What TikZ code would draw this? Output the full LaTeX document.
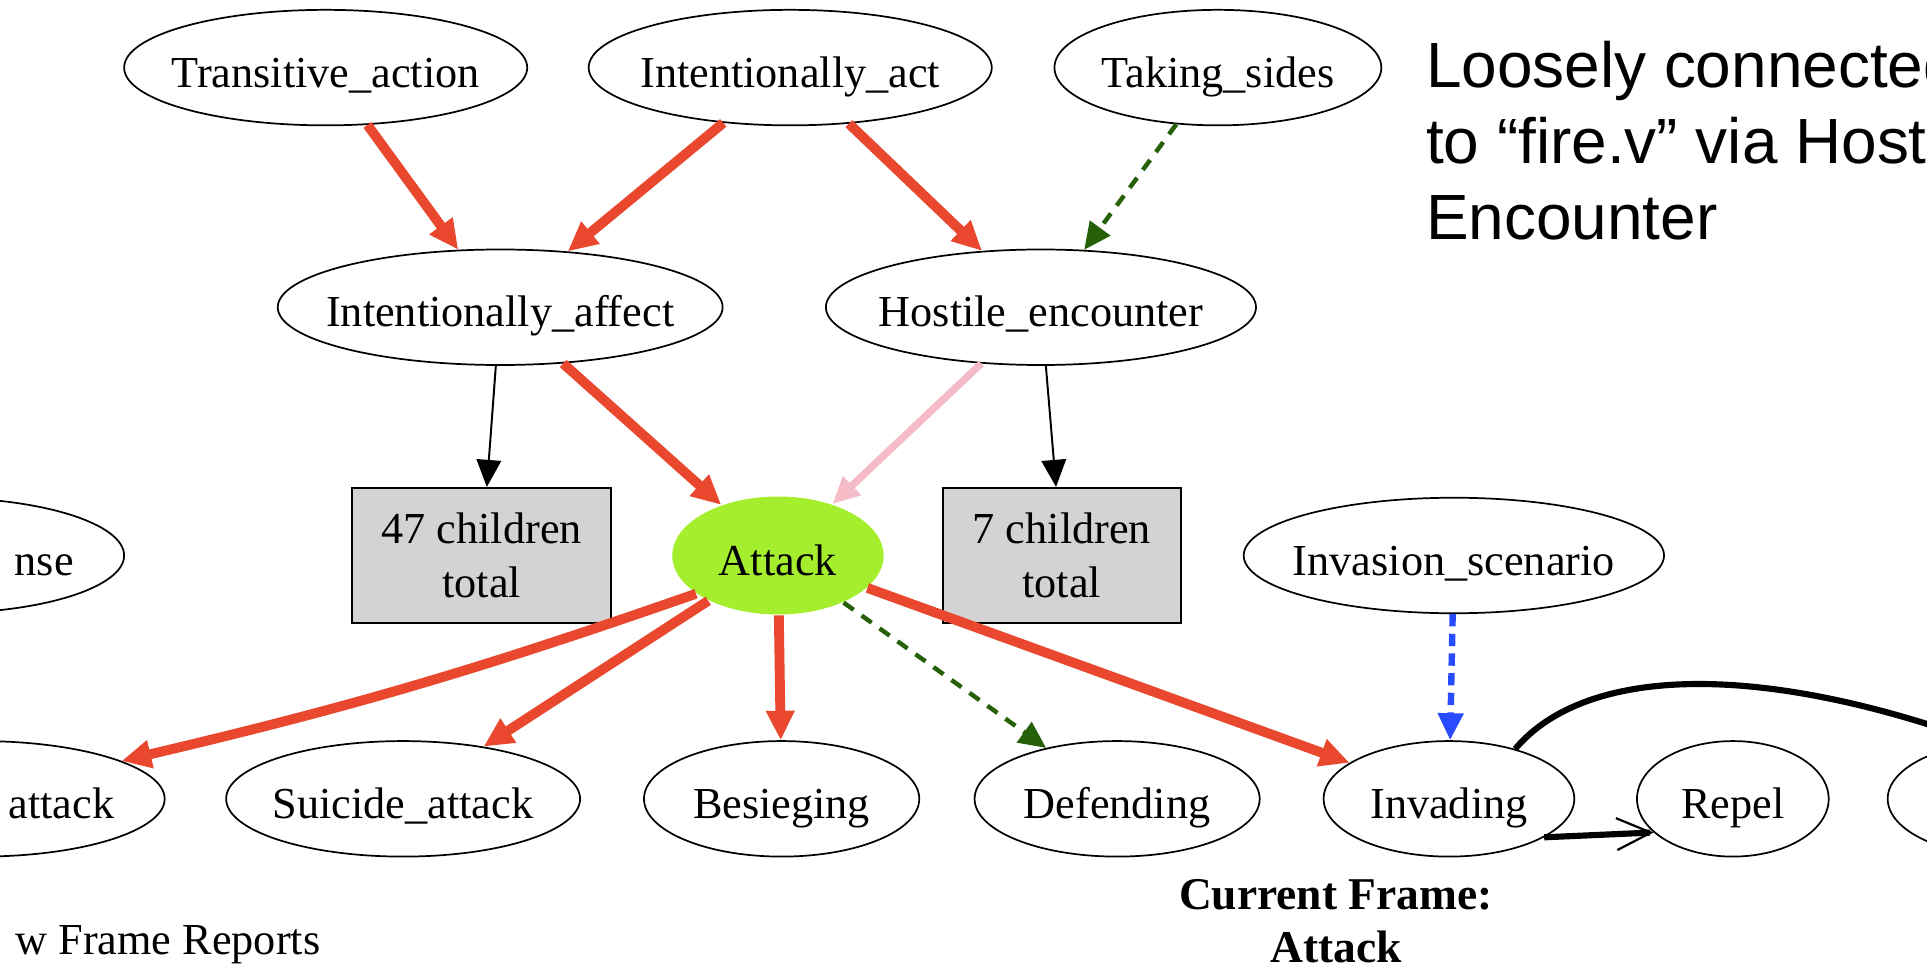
\documentclass[tikz,border=0pt]{standalone}
\usepackage{fontspec}
\setmainfont{Liberation Serif}
\newfontfamily\headfont{Liberation Sans}
\usetikzlibrary{shapes.geometric,arrows.meta,positioning}

\definecolor{hotred}{RGB}{233,71,46}
\definecolor{palepink}{RGB}{245,188,200}
\definecolor{darkgreen}{RGB}{38,96,8}
\definecolor{dashblue}{RGB}{40,75,255}
\definecolor{attackgreen}{RGB}{165,238,45}
\definecolor{boxgray}{RGB}{211,211,211}

\begin{document}
\begin{tikzpicture}[x=0.5pt, y=-0.5pt, on grid,
	every node/.style={font=\fontsize{18}{22}\selectfont},
	fnode/.style={ellipse, draw, line width=0.7pt, inner xsep=-20pt, inner ysep=0pt, minimum height=47pt, text height=16pt, text depth=0pt},
	curframe/.style={fnode, draw=none, fill=attackgreen, minimum width=86pt, minimum height=48pt},
	partial/.style={fnode, minimum width=150pt, text width=109pt, align=right},
	childbox/.style={rectangle, draw, line width=0.8pt, fill=boxgray, minimum width=#1, minimum height=55pt, align=center},
	edgehead/.style={-{Triangle[length=11pt,width=10pt]}},
	inherits/.style={-{Triangle[length=12pt,width=11pt]}, line width=4pt, hotred},
	uses/.style={edgehead, line width=1.8pt, darkgreen, dash pattern=on 5pt off 4pt},
	persp/.style={edgehead, line width=3pt, palepink},
	subframe/.style={edgehead, line width=2.6pt, dashblue, dash pattern=on 5pt off 3pt},
	haschild/.style={edgehead, line width=0.8pt},
	precedes/.style={line width=2.5pt},
	barbhead/.style={-{Straight Barb[length=14pt, width=13pt, line width=0.9pt]}}]
	
	\useasboundingbox (0,0) rectangle (1568,788);
	\clip (0,0) rectangle (1568,788);
	
	% frames
	\node[fnode, minimum width=164pt] (ta) at (265,55) {Transitive\_action};
	\node[fnode, minimum width=164pt] (iact) [right=189pt of ta] {Intentionally\_act};
	\node[fnode, minimum width=133pt] (ts) [right=174pt of iact] {Taking\_sides};
	
	\node[fnode, minimum width=181pt] (iaff) at (407,250) {Intentionally\_affect};
	\node[fnode, minimum width=175pt] (he) [right=220pt of iaff] {Hostile\_encounter};
	
	\node[childbox=105.5pt] (box47) at (392,452) {47 children\\total};
	\node[partial] (resp) [left=220.5pt of box47] {nse};
	\node[curframe] (att) [right=120.5pt of box47] {Attack};
	\node[childbox=97pt] (box7) [right=115.5pt of att] {7 children\\total};
	\node[fnode, minimum width=171pt] (isc) [right=159.5pt of box7] {Invasion\_scenario};
	
	\node[fnode, minimum width=144pt] (sui) at (328,650) {Suicide\_attack};
	\node[partial] (ctr) [left=172pt of sui] {attack};
	\node[fnode, minimum width=112pt] (bes) [right=154pt of sui] {Besieging};
	\node[fnode, minimum width=116pt] (def) [right=136.5pt of bes] {Defending};
	\node[fnode, minimum width=102pt] (invd) [right=135pt of def] {Invading};
	\node[fnode, minimum width=78pt] (rep) [right=115.5pt of invd] {Repel};
	\node[fnode, minimum width=100pt] (nxt) [right=113pt of rep] {};
	\coordinate (offpage) at (1700,640);
	
	% texts
	\node[anchor=north west, inner sep=0pt, align=left, font=\headfont\fontsize{26}{31}\selectfont] (note) at (1160,33) {Loosely connected\\to “fire.v” via Host\\Encounter};
	\node[anchor=north, inner sep=0pt, align=center, font=\bfseries\fontsize{18.5}{21.5}\selectfont] (cur) at (1087,715) {Current Frame:\\Attack};
	\node[anchor=base east, inner sep=0pt] (vfr) at (261,777) {w Frame Reports};
	
	% relations
	\draw[inherits] (ta) -- (iaff);
	\draw[inherits] (iact) -- (iaff);
	\draw[inherits] (iact) -- (he);
	\draw[uses] (ts) -- (he.53);
	\draw[haschild] (iaff) -- (box47);
	\draw[haschild] (he) -- (box7);
	\draw[inherits] (iaff) -- (att);
	\draw[persp] (he) -- (att);
	\draw[inherits] (att.205) to[bend left=3] (ctr.15);
	\draw[inherits] (att) -- (sui);
	\draw[inherits] (att) -- (bes);
	\draw[uses] (att) -- (def);
	\draw[inherits] (att) -- (invd);
	\draw[subframe] (isc) -- (invd);
	\draw[precedes, barbhead] (invd.-22) -- (rep.203);
	\draw[precedes] (invd.37) .. controls (1300,530) and (1480,540) .. (offpage);
\end{tikzpicture}
\end{document}
